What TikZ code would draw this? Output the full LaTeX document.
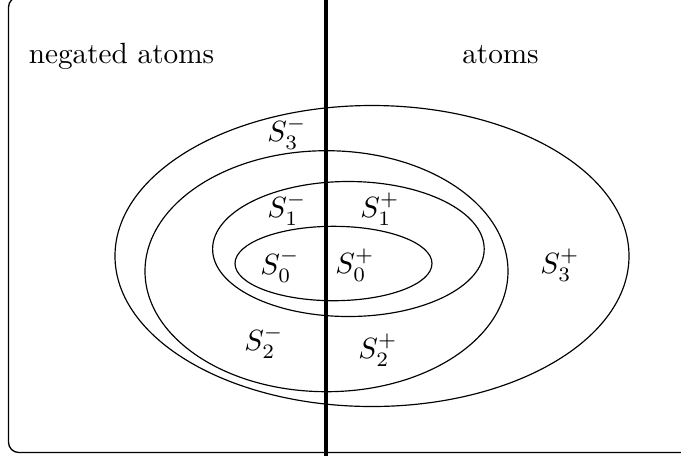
\documentclass[tikz,border=0pt]{standalone}
\begin{document}
\begin{tikzpicture}[x=0.342pt,y=-0.342pt,
  region/.style={draw,line width=0.4pt},
  frame/.style={draw,line width=0.45pt,rounded corners=3.5pt},
  divider/.style={draw,line width=1.35pt},
  lbl/.style={inner sep=0pt},
  head/.style={inner sep=0pt,anchor=base}]
\useasboundingbox (0,0) rectangle (681,456);
\clip (0,0) rectangle (681,456);
\path[frame] (8.5,-3) rectangle (720,452.5);
\path[region] (372,256) ellipse [x radius=257, y radius=150.5];
\path[region] (326.5,271.2) ellipse [x radius=181.5, y radius=120.5];
\path[region] (348.4,249) ellipse [x radius=135.8, y radius=67.5];
\path[region] (333.5,263.5) ellipse [x radius=98.5, y radius=37.2];
\coordinate (dtop) at (325.8,0);
\coordinate (dbot) at (325.8,456);
\path[divider] (dtop) -- (dbot);
\node[head] (neg) at (121.5,63.5) {negated atoms};
\node[head] (pos) at (500.5,63.5) {atoms};
\node[lbl] (s3m) at (287,133) {$S_3^-$};
\node[lbl] (s1m) at (287,209) {$S_1^-$};
\node[lbl] (s0m) at (280,265.5) {$S_0^-$};
\node[lbl] (s2m) at (264,342) {$S_2^-$};
\node[lbl] (s1p) at (380,209) {$S_1^+$};
\node[lbl] (s0p) at (355,265) {$S_0^+$};
\node[lbl] (s2p) at (378,350) {$S_2^+$};
\node[lbl] (s3p) at (560,265) {$S_3^+$};
\end{tikzpicture}
\end{document}
